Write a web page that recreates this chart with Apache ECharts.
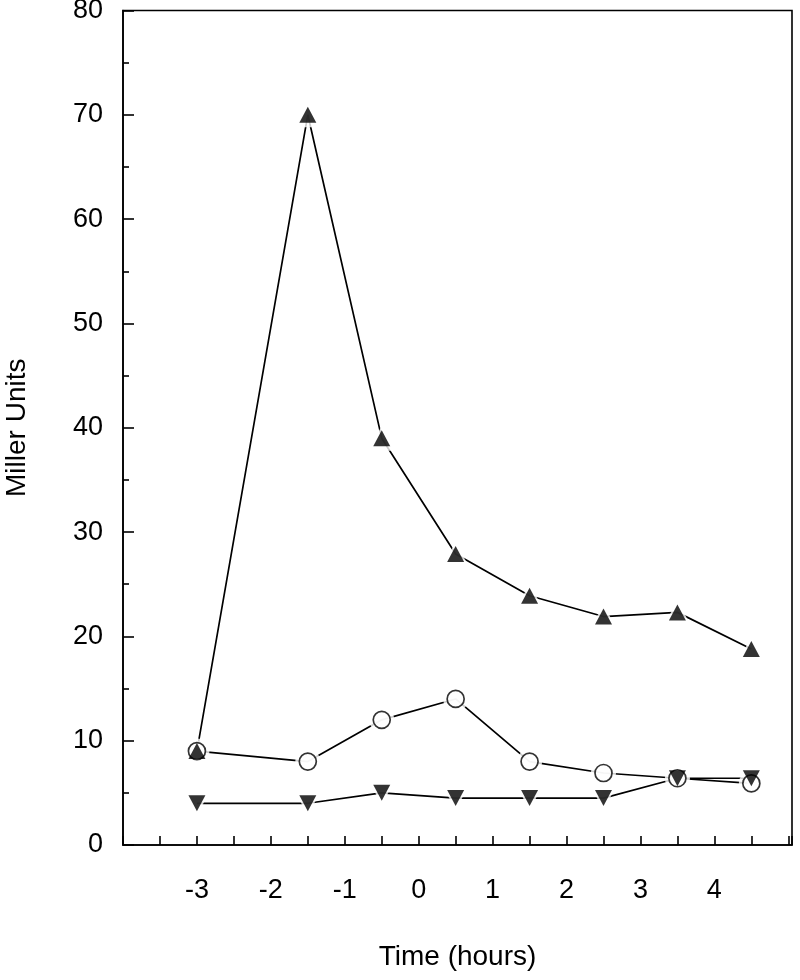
<!DOCTYPE html>
<html>
<head>
<meta charset="utf-8">
<script src="https://cdn.jsdelivr.net/npm/echarts@6/dist/echarts.min.js"></script>
<style>html,body{margin:0;padding:0;background:#fff;}#c{width:800px;height:980px;}</style>
</head>
<body>
<div id="c"></div>
<script>
const timeHours = [-3, -1.5, -0.5, 0.5, 1.5, 2.5, 3.5, 4.5];
const upTriangle = [9, 70, 39, 27.9, 23.9, 21.9, 22.3, 18.8];
const openCircle = [9, 8, 12, 14, 8, 6.9, 6.4, 5.9];
const downTriangle = [4, 4, 5, 4.5, 4.5, 4.5, 6.4, 6.4];
const xTickLabels = [-3, -2, -1, 0, 1, 2, 3, 4];
const yTickLabels = [0, 10, 20, 30, 40, 50, 60, 70, 80];

const pairs = arr => timeHours.map((t, i) => [t, arr[i]]);
const font = 'Liberation Sans, Arial, Helvetica, sans-serif';

const defs = [
  { name: 'circle', data: openCircle, symbol: 'circle', size: 17, rotate: 0, fill: '#fff' },
  { name: 'up', data: upTriangle, symbol: 'triangle', size: [17, 16], rotate: 0, fill: '#000' },
  { name: 'down', data: downTriangle, symbol: 'triangle', size: [17, 16], rotate: 180, fill: '#000' }
];

const series = [];
defs.forEach(d => {
  series.push({
    type: 'line', data: pairs(d.data), showSymbol: false, symbol: 'none', z: 2,
    lineStyle: { color: '#000', width: 1.7 }, silent: true
  });
});
defs.forEach(d => {
  series.push({
    type: 'scatter', data: pairs(d.data), symbol: d.symbol, symbolRotate: d.rotate,
    symbolSize: Array.isArray(d.size) ? [d.size[0] + 9, d.size[1] + 9] : d.size + 8,
    itemStyle: { color: '#fff' }, z: 3, silent: true
  });
});
defs.forEach(d => {
  series.push({
    type: 'scatter', data: pairs(d.data), symbol: d.symbol, symbolRotate: d.rotate,
    symbolSize: d.size,
    itemStyle: { color: d.fill, borderColor: '#000', borderWidth: d.fill === '#fff' ? 1.7 : 0 },
    z: 4, silent: true
  });
});

const chart = echarts.init(document.getElementById('c'), null, { renderer: 'canvas' });
chart.setOption({
  backgroundColor: '#fff',
  animation: false,
  grid: { left: 123, top: 10.5, right: 8, bottom: 135, outerBoundsMode: 'none', containLabel: false, show: true, borderColor: '#000', borderWidth: 1.6, backgroundColor: 'transparent' },
  xAxis: {
    type: 'value', min: -4, max: 5.05, interval: 0.5,
    name: 'Time (hours)', nameLocation: 'middle', nameGap: 98,
    nameTextStyle: { fontFamily: font, fontSize: 28, color: '#000' },
    axisLine: { onZero: false, lineStyle: { color: '#000', width: 1.6 } },
    axisTick: { inside: true, length: 9, lineStyle: { color: '#000', width: 1.6 } },
    axisLabel: {
      margin: 32, fontFamily: font, fontSize: 27, color: '#000',
      formatter: v => (xTickLabels.indexOf(Math.round(v * 100) / 100) >= 0 ? String(v) : '')
    },
    splitLine: { show: false }
  },
  yAxis: {
    type: 'value', min: 0, max: 80, interval: 10,
    name: 'Miller Units', nameLocation: 'middle', nameGap: 92,
    nameTextStyle: { fontFamily: font, fontSize: 28, color: '#000' },
    axisLine: { onZero: false, lineStyle: { color: '#000', width: 1.6 } },
    axisTick: { inside: true, length: 11, lineStyle: { color: '#000', width: 1.6 } },
    minorTick: { show: true, splitNumber: 2, length: 6, lineStyle: { color: '#000', width: 1.6 } },
    axisLabel: {
      margin: 20, fontFamily: font, fontSize: 27, color: '#000',
      formatter: v => (yTickLabels.indexOf(v) >= 0 ? String(v) : '')
    },
    splitLine: { show: false }
  },
  series: series
});
</script>
</body>
</html>
